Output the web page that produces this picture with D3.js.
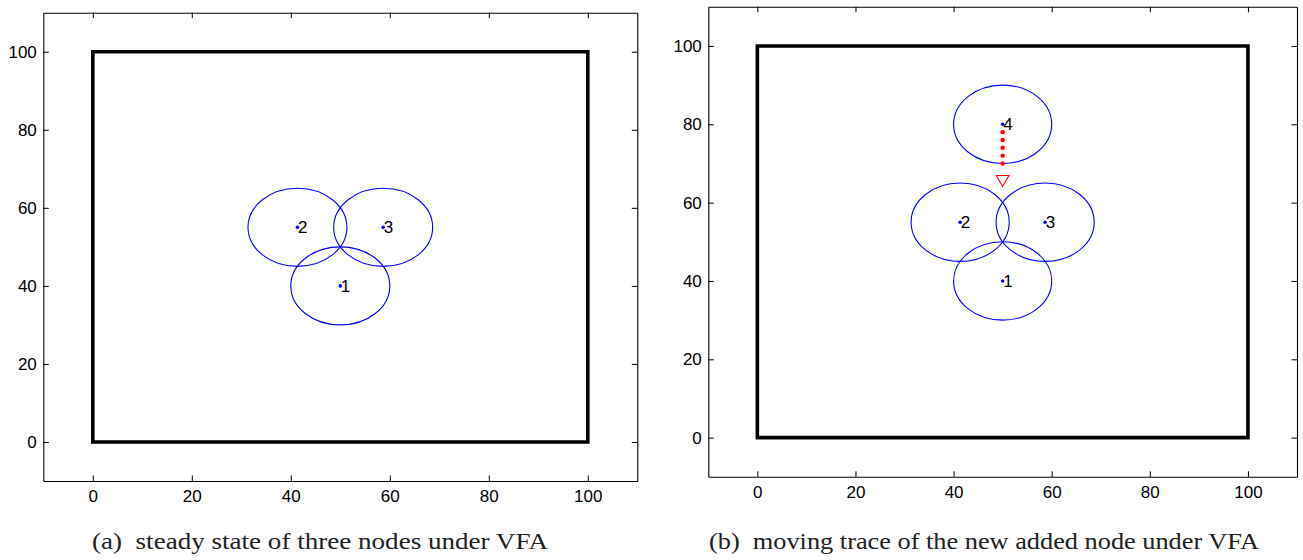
<!DOCTYPE html>
<html>
<head>
<meta charset="utf-8">
<script src="https://cdn.jsdelivr.net/npm/d3@7"></script>
<style>
  html, body { margin: 0; padding: 0; background: #fff; }
  svg { display: block; }
  .tick-label { font-family: "Liberation Sans", Arial, sans-serif; font-size: 17px; fill: #000; }
  .node-label { font-family: "Liberation Sans", Arial, sans-serif; font-size: 17px; fill: #000; }
  .caption { font-family: "Liberation Serif", "Times New Roman", serif; font-size: 23px; fill: #222; }
</style>
</head>
<body>
<svg id="chart" width="1303" height="560"></svg>
<script>
// Axis ticks shared by both panels
const xTicks = [0, 20, 40, 60, 80, 100];
const yTicks = [0, 20, 40, 60, 80, 100];
const axisDomain = [-10, 110];

// Boundary of the monitored field (closed polygon)
const fieldX = [0, 100, 100, 0, 0];
const fieldY = [0, 0, 100, 100, 0];

// Sensing radius of every node
const sensingRadius = 10;

// (a) steady state of three nodes
const steadyIds = ["1", "2", "3"];
const steadyX = [50, 41.34, 58.66];
const steadyY = [40, 55, 55];

// (b) the three nodes plus the newly added node 4
const traceIds = ["1", "2", "3", "4"];
const traceX = [50, 41.34, 58.66, 50];
const traceY = [40, 55, 55, 80];

// Moving trace of node 4 and its end point
const moveX = [50, 50, 50, 50, 50];
const moveY = [78, 76, 74, 72, 70];
const endX = [50];
const endY = [66];

const captions = [
  "(a)\u2002steady state of three nodes under VFA",
  "(b)\u2002moving trace of the new added node under VFA"
];

const panels = [
  { left: 43.3, right: 637.3, top: 12.7, bottom: 481, captionX: 92, captionY: 549, captionLen: 456,
    ids: steadyIds, xs: steadyX, ys: steadyY, trace: false, caption: captions[0] },
  { left: 708.3, right: 1297, top: 6.8, bottom: 476.8, captionX: 709, captionY: 549, captionLen: 550,
    ids: traceIds, xs: traceX, ys: traceY, trace: true, caption: captions[1] }
];

const svg = d3.select("#chart");
const tickLen = 5.5;

panels.forEach(p => {
  const x = d3.scaleLinear().domain(axisDomain).range([p.left, p.right]);
  const y = d3.scaleLinear().domain(axisDomain).range([p.bottom, p.top]);
  const g = svg.append("g");

  // Axes with inward ticks on all four sides
  const axes = [
    { axis: d3.axisBottom(x).tickValues(xTicks).tickSizeInner(-tickLen).tickSizeOuter(0).tickPadding(9), tr: `translate(0,${p.bottom})`, labels: true },
    { axis: d3.axisTop(x).tickValues(xTicks).tickSizeInner(-tickLen).tickSizeOuter(0), tr: `translate(0,${p.top})`, labels: false },
    { axis: d3.axisLeft(y).tickValues(yTicks).tickSizeInner(-tickLen).tickSizeOuter(0).tickPadding(6.5), tr: `translate(${p.left},0)`, labels: true },
    { axis: d3.axisRight(y).tickValues(yTicks).tickSizeInner(-tickLen).tickSizeOuter(0), tr: `translate(${p.right},0)`, labels: false }
  ];
  axes.forEach(a => {
    const ag = g.append("g").attr("transform", a.tr).call(a.axis);
    ag.select(".domain").attr("stroke", "#000").attr("stroke-width", 1.1);
    ag.selectAll(".tick line").attr("stroke", "#000").attr("stroke-width", 1);
    const t = ag.selectAll(".tick text").attr("class", "tick-label").attr("font-family", null).attr("font-size", null);
    if (!a.labels) t.remove();
  });

  // Field boundary
  const line = d3.line().x(i => x(fieldX[i])).y(i => y(fieldY[i]));
  g.append("path")
    .attr("d", line(d3.range(fieldX.length)))
    .attr("fill", "none")
    .attr("stroke", "#000")
    .attr("stroke-width", 3.6)
    .attr("stroke-linejoin", "miter")
    .attr("stroke-linecap", "square");

  const idx = d3.range(p.ids.length);

  // Sensing ranges
  g.selectAll(null).data(idx).join("ellipse")
    .attr("cx", i => x(p.xs[i]))
    .attr("cy", i => y(p.ys[i]))
    .attr("rx", x(sensingRadius) - x(0))
    .attr("ry", y(0) - y(sensingRadius))
    .attr("fill", "none")
    .attr("stroke", "#0000ff")
    .attr("stroke-width", 1.1);

  if (p.trace) {
    // Moving trace (red dots) and end marker (downward triangle)
    g.selectAll(null).data(d3.range(moveX.length)).join("circle")
      .attr("cx", i => x(moveX[i]))
      .attr("cy", i => y(moveY[i]))
      .attr("r", 2.2)
      .attr("fill", "#ff0000");
    const tri = d3.symbol().type(d3.symbolTriangle).size(70);
    g.selectAll(null).data(d3.range(endX.length)).join("path")
      .attr("d", tri())
      .attr("transform", i => `translate(${x(endX[i])},${y(endY[i])}) rotate(180)`)
      .attr("fill", "none")
      .attr("stroke", "#ff0000")
      .attr("stroke-width", 1.1);
  }

  // Node positions and ids
  g.selectAll(null).data(idx).join("circle")
    .attr("cx", i => x(p.xs[i]))
    .attr("cy", i => y(p.ys[i]))
    .attr("r", 1.8)
    .attr("fill", "#0000ff");
  g.selectAll(null).data(idx).join("text")
    .attr("class", "node-label")
    .attr("x", i => x(p.xs[i]) + 0.5)
    .attr("y", i => y(p.ys[i]))
    .attr("dy", "0.36em")
    .text(i => p.ids[i]);

  // Caption
  svg.append("text")
    .attr("class", "caption")
    .attr("x", p.captionX)
    .attr("y", p.captionY)
    .attr("textLength", p.captionLen)
    .attr("lengthAdjust", "spacingAndGlyphs")
    .text(p.caption);
});
</script>
</body>
</html>
